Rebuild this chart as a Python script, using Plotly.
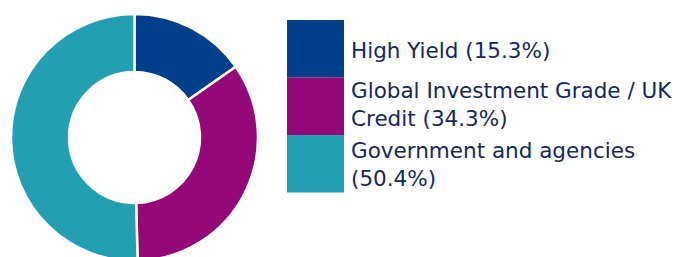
import plotly.graph_objects as go

categories = ["High Yield", "Global Investment Grade / UK Credit", "Government and agencies"]
values = [15.3, 34.3, 50.4]
legend_texts = ["High Yield (15.3%)",
                "Global Investment Grade / UK<br>Credit (34.3%)",
                "Government and agencies<br>(50.4%)"]
colors = ["#00408A", "#940877", "#239FB2"]

W, H = 680, 275
cx, cy, r = 134.5, 137.5, 123.5

fig = go.Figure(go.Pie(
    labels=categories, values=values, sort=False, direction="clockwise", rotation=0,
    hole=0.53, marker=dict(colors=colors, line=dict(color="white", width=2.5)),
    textinfo="none", hoverinfo="label+percent", showlegend=False,
    domain=dict(x=[(cx - r) / W, (cx + r) / W], y=[(H - cy - r) / H, (H - cy + r) / H]),
))

shapes, annotations = [], []
box_x0, box_x1 = 287, 344
box_tops = [20, 77.5, 135]
box_h = 57.5
text_x = 350
text_centers = [50, 104.5, 164.5]
for i, c in enumerate(colors):
    y0 = box_tops[i]
    shapes.append(dict(type="rect", xref="paper", yref="paper",
                       x0=box_x0 / W, x1=box_x1 / W, y0=1 - (y0 + box_h) / H, y1=1 - y0 / H,
                       fillcolor=c, line=dict(width=0), layer="above"))
    annotations.append(dict(text=legend_texts[i], xref="paper", yref="paper",
                            x=text_x / W, y=1 - text_centers[i] / H,
                            xanchor="left", yanchor="middle", align="left", showarrow=False,
                            borderpad=0,
                            font=dict(family="DejaVu Sans", size=21.5, color="#13295B")))

fig.update_layout(width=W, height=H, margin=dict(l=0, r=0, t=0, b=0),
                  paper_bgcolor="white", plot_bgcolor="white",
                  shapes=shapes, annotations=annotations)

fig.write_html("out.html", config={"displayModeBar": False},
               post_script="document.documentElement.style.overflow='hidden';document.body.style.overflow='hidden';document.body.style.margin='0';")
